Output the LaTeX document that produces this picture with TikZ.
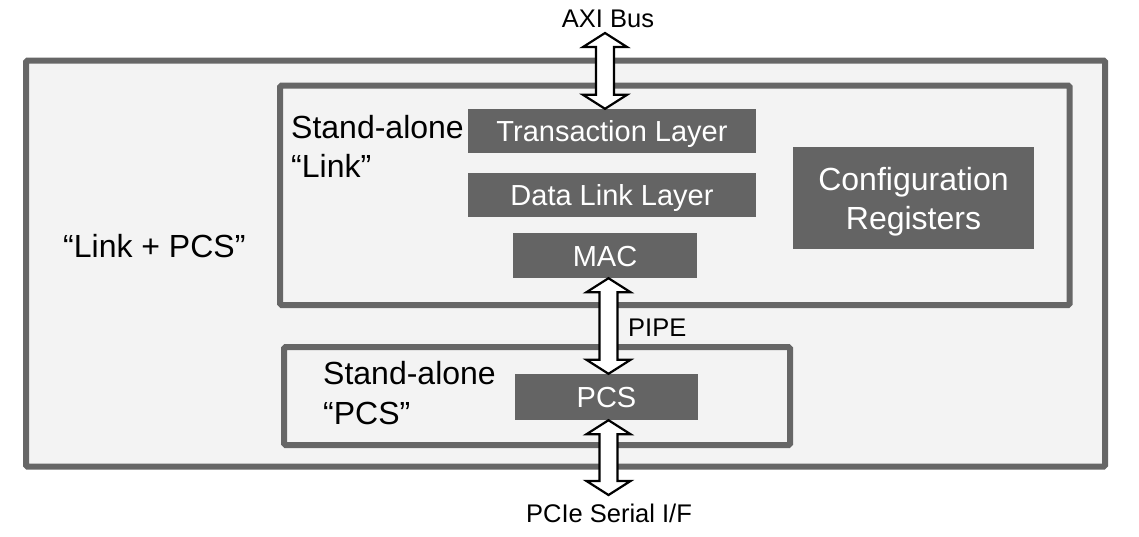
\documentclass[tikz,border=0pt]{standalone}
\usepackage{fontspec}
\setmainfont{Liberation Sans}
\usetikzlibrary{calc}
\definecolor{boxgray}{RGB}{100,100,100}
\definecolor{framegray}{RGB}{102,102,102}
\definecolor{bggray}{RGB}{243,243,243}
\newcommand{\myfs}[2]{\fontsize{#1}{#2}\selectfont}
\newcommand{\dblarrow}[2]{%
  \draw[bigarrow] (#1) -- ($(#1)+(22,14)$) -- ($(#1)+(9,14)$) -- ($(#2)+(9,-14)$) -- ($(#2)+(22,-14)$) -- (#2) -- ($(#2)+(-22,-14)$) -- ($(#2)+(-9,-14)$) -- ($(#1)+(-9,14)$) -- ($(#1)+(-22,14)$) -- cycle;}
\tikzset{
  frame/.style={draw=framegray, line width=6pt, fill=bggray, rounded corners=1.5pt, inner sep=0pt},
  layer/.style={fill=boxgray, text=white, inner sep=0pt, text height=21pt, text depth=0pt, font=\myfs{29}{33}},
  cfgbox/.style={fill=boxgray, text=white, inner sep=0pt, align=center, text height=62pt, text depth=0pt, font=\myfs{32}{39}},
  biglabel/.style={inner sep=0pt, font=\myfs{32}{39}, align=left},
  smalllabel/.style={inner sep=0pt, font=\myfs{25.5}{30}},
  bigarrow/.style={draw=black, fill=white, line width=2.2pt, line join=miter}
}
\begin{document}
\begin{tikzpicture}[x=1pt,y=-1pt]
\useasboundingbox[fill=white] (0,0) rectangle (1139,536);
% frames
\node[frame, minimum width=1079pt, minimum height=406pt] (outer) at (565.5,263.5) {};
\node[frame, minimum width=789.5pt, minimum height=219.5pt] (link) at (674.75,195.25) {};
\node[frame, minimum width=506pt, minimum height=98pt] (pcsbox) at (537,396) {};
% dark boxes
\node[layer, minimum width=288pt, minimum height=44pt] (trans) at (612,131) {Transaction Layer};
\node[layer, minimum width=288pt, minimum height=44pt] (dll) at (612,195) {Data Link Layer};
\node[layer, minimum width=184pt, minimum height=45pt] (mac) at (605,255.5) {MAC};
\node[layer, minimum width=183pt, minimum height=46pt] (pcs) at (606.5,397) {PCS};
\node[cfgbox, minimum width=241pt, minimum height=102pt] (cfg) at (913.5,198) {Configuration\\Registers};
% labels
\node[biglabel, anchor=north west] (salink) at (291,115.5) {Stand-alone\\“Link”};
\node[biglabel, anchor=north west, font=\myfs{32}{40}] (sapcs) at (323,361.5) {Stand-alone\\“PCS”};
\node[biglabel, anchor=base west] (lpcs) at (63,257) {“Link + PCS”};
\node[smalllabel, anchor=base] (axi) at (608,27) {AXI Bus};
\node[smalllabel, anchor=base west] (pipe) at (628,336) {PIPE};
\node[smalllabel, anchor=base] (pcie) at (609,522.5) {PCIe Serial I/F};
% arrows
\coordinate (axiend) at (605,33);
\coordinate (pipex) at (608.5,300);
\coordinate (pcieend) at (608.5,495);
\dblarrow{axiend}{axiend |- trans.north}
\dblarrow{pipex |- mac.south}{pipex |- pcs.north}
\dblarrow{pcieend |- pcs.south}{pcieend}
\end{tikzpicture}
\end{document}
